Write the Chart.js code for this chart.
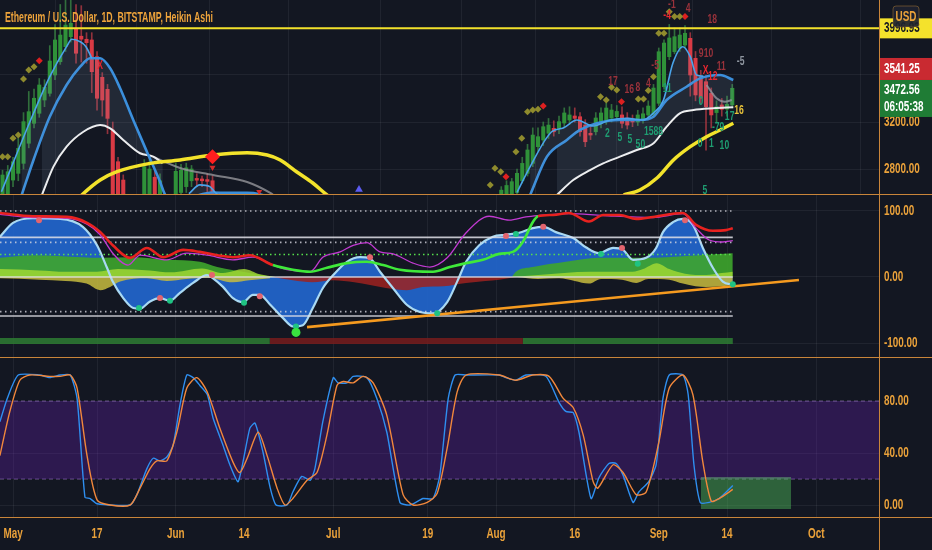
<!DOCTYPE html>
<html>
<head>
<meta charset="utf-8">
<title>ETHUSD 1D Heikin Ashi</title>
<script src="https://cdn.jsdelivr.net/npm/chart.js@4.4.1/dist/chart.umd.min.js"></script>
<style>
  html, body { margin: 0; padding: 0; background: #131722; }
  #board { position: relative; width: 932px; height: 550px; overflow: hidden; background: #131722; }
  .pane { position: absolute; left: 0; width: 932px; }
  .rule { position: absolute; background: #c9853a; }
</style>
</head>
<body>
<div id="board">
  <div class="pane" style="top:0;height:194px"><canvas id="priceChart"></canvas></div>
  <div class="pane" style="top:195px;height:162px"><canvas id="oscChart"></canvas></div>
  <div class="pane" style="top:358px;height:192px"><canvas id="stochChart"></canvas></div>
  <div class="rule" style="left:0;top:194px;width:932px;height:1px"></div>
  <div class="rule" style="left:0;top:357px;width:932px;height:1px"></div>
  <div class="rule" style="left:0;top:517px;width:932px;height:1px"></div>
  <div class="rule" style="left:879px;top:0;width:1px;height:550px"></div>
</div>
<script>
const FONT = '"Liberation Sans", Arial, sans-serif';
const SQUEEZE = 0.66;   // the snapshot text is horizontally condensed
const AXIS_TEXT = '#eba23a';
const GRID = 'rgba(255,255,255,0.06)';

// day 0 = 1 May 2021, visible window of the time axis
const viewStart = -2.48;
const viewEnd = 164.95;
const tickDays = [0, 16, 31, 44, 61, 79, 92, 107, 123, 136, 153];
const tickLabels = ['May', '17', 'Jun', '14', 'Jul', '19', 'Aug', '16', 'Sep', '14', 'Oct'];

// ---------- price pane ----------
const titleText = 'Ethereum / U.S. Dollar, 1D, BITSTAMP, Heikin Ashi';
const priceTicks = [2800, 3200, 3600, 4000];
const alertLevel = 3996.93;
const lastPrice = 3472.56;
const prevPrice = 3541.25;
const countdown = '06:05:38';

const candleDays  = [-2, -1, 0, 1, 2, 3, 4, 5, 6, 7, 8, 9, 10, 11, 12, 13, 14, 15, 16, 17, 18, 19, 20, 21, 25, 26, 27, 28, 31, 32, 33, 34, 35, 36, 37, 38,
  93, 94, 95, 96, 97, 98, 99, 100, 101, 102, 103, 104, 105, 106, 107, 108, 109, 110, 111, 112, 113, 114, 115, 116, 117, 118, 119, 120, 121, 122, 123, 124, 125, 126, 127, 128, 129, 130, 131, 132, 133, 134, 135, 136, 137];
const candleOpen  = [2550, 2560, 2706, 2763, 2848, 3019, 3189, 3274, 3387, 3444, 3600, 3713, 3841, 3926, 3989, 3930, 3904, 3898, 3756, 3580, 3478, 3132, 2862, 2706, 2550, 2550, 2730, 2560, 2550, 2600, 2650, 2700, 2720, 2715, 2710, 2700,
  2560, 2580, 2580, 2600, 2700, 2763, 2848, 2990, 3047, 3104, 3146, 3146, 3191, 3217, 3251, 3245, 3174, 3104, 3117, 3189, 3203, 3234, 3245, 3260, 3234, 3226, 3200, 3217, 3260, 3260, 3359, 3500, 3756, 3798, 3828, 3855, 3912, 3742, 3586, 3543, 3444, 3280, 3345, 3310, 3345];
const candleClose = [2749, 2777, 2862, 2976, 3203, 3288, 3402, 3515, 3495, 3719, 3898, 3940, 4025, 4040, 3785, 3905, 3875, 3628, 3402, 3387, 3231, 2500, 2500, 2500, 2820, 2800, 2550, 2700, 2780, 2790, 2810, 2800, 2705, 2700, 2695, 2550,
  2620, 2660, 2692, 2763, 2848, 2962, 3089, 3075, 3160, 3174, 3117, 3203, 3277, 3260, 3231, 3117, 3032, 3089, 3234, 3277, 3319, 3302, 3290, 3189, 3174, 3200, 3260, 3270, 3336, 3489, 3798, 3872, 3915, 3926, 3940, 3955, 3600, 3430, 3402, 3330, 3260, 3330, 3308, 3350, 3487];
const candleHigh  = [2790, 2830, 2900, 3060, 3280, 3460, 3480, 3570, 3560, 3850, 4030, 4200, 4250, 4300, 4200, 4190, 3960, 3960, 3800, 3620, 3520, 3200, 2900, 2750, 2880, 2900, 2780, 2760, 2850, 2840, 2850, 2830, 2760, 2740, 2760, 2740,
  2650, 2700, 2720, 2800, 2900, 3010, 3150, 3150, 3200, 3230, 3210, 3250, 3320, 3330, 3320, 3280, 3220, 3170, 3280, 3320, 3360, 3350, 3340, 3330, 3280, 3260, 3300, 3320, 3380, 3520, 3830, 3900, 4030, 4000, 4000, 4020, 3960, 3800, 3640, 3600, 3490, 3380, 3400, 3420, 3520];
const candleLow   = [2500, 2500, 2650, 2700, 2800, 2980, 3150, 3240, 3330, 3420, 3560, 3690, 3800, 3880, 3700, 3710, 3700, 3450, 3300, 3250, 3100, 2400, 2400, 2400, 2500, 2500, 2500, 2500, 2500, 2550, 2600, 2650, 2650, 2650, 2600, 2500,
  2540, 2560, 2560, 2580, 2680, 2740, 2820, 2950, 3000, 3060, 3080, 3100, 3150, 3180, 3200, 3080, 2990, 3050, 3090, 3150, 3180, 3200, 3210, 3150, 3140, 3160, 3170, 3190, 3230, 3240, 3340, 3480, 3730, 3780, 3800, 3830, 3420, 3380, 3350, 2960, 3150, 3200, 3250, 3250, 3320];

const fastDays  = [-2.2, 3.9, 7.0, 10.2, 11.2, 12.8, 13.9, 15.0, 25, 33.5, 35.6, 37.5, 38.5, 39.5, 70, 96, 98.5, 102.6, 104.8, 107.4, 110.5, 113.7, 117, 120, 122, 123.9, 125.7, 127.6, 129, 130.2, 131.5];
const fastVals  = [2607, 3274, 3586, 3841, 3904, 3883, 3841, 3742, null, 2590, 2665, 2650, 2600, 2570, null, 2600, 2820, 3117, 3149, 3217, 3166, 3217, 3231, 3217, 3277, 3387, 3702, 3841, 3756, 3600, 3590];
const slowDays  = [1.65, 3.9, 7.0, 10.2, 12.8, 14.7, 16.6, 18.5, 20.4, 22.9, 25.5, 28, 29, 31, 38, 41, 44.6, 47, 50, 70, 98.5, 101.7, 105.5, 108, 111.2, 115.6, 119.4, 122, 124.5, 128.3, 130.9, 134.7, 137.2];
const slowVals  = [2579, 2877, 3245, 3515, 3671, 3742, 3742, 3657, 3487, 3217, 2947, 2692, 2579, 2530, 2600, 2597, 2597, 2585, 2540, null, 2579, 2905, 3047, 3132, 3189, 3217, 3217, 3245, 3387, 3500, 3571, 3600, 3557];
const whiteDays = [5.5, 7.7, 10.2, 13.4, 16.6, 18.5, 21, 24.2, 26.7, 28.5, 70, 103.6, 106.7, 109.9, 112.4, 115.6, 118.8, 122, 124.5, 127, 129.6, 133.4, 137.2];
const whiteVals = [2579, 2820, 2990, 3117, 3174, 3146, 3047, 2934, 2905, 2850, null, 2579, 2706, 2791, 2848, 2905, 2962, 3019, 3160, 3274, 3302, 3317, 3325];
const grayDays  = [26.7, 31.8, 38.1, 44.6, 49, 50.5, 90, 132.1, 134, 135.6, 136.9];
const grayVals  = [2905, 2809, 2749, 2689, 2596, 2550, null, 3515, 3402, 3373, 3387];
const maDays    = [12, 13.1, 16.6, 19.8, 26.1, 31.8, 38.1, 44.6, 48.4, 50.9, 54, 57.1, 59.8, 61, 90, 116.3, 119.4, 122.6, 125.8, 129, 132.1, 134.7, 137.2];
const maVals    = [2530, 2579, 2706, 2777, 2848, 2877, 2919, 2939, 2919, 2877, 2777, 2681, 2579, 2540, null, 2579, 2621, 2721, 2877, 2990, 3075, 3132, 3189];

const oliveDays   = [-2, -1, 0, 1, 2, 3, 4, 90.9, 91.8, 92.9, 95.8, 96.9, 98, 99, 100, 111.9, 113, 114, 115, 119.1, 120.1, 121, 122, 123, 124, 125, 126, 127];
const olivePrices = [2905, 2905, 3061, 3089, 3566, 3643, 3671, 2664, 2806, 2777, 2947, 3061, 3288, 3302, 3308, 3415, 3387, 3495, 3472, 3396, 3396, 3468, 3586, 3955, 3955, 4139, 4097, 4097];
const redMarkDays   = [5, 93.9, 101, 115.9, 128];
const redMarkPrices = [3722, 2735, 3336, 3373, 4097];
const bigMarkDays   = [38];
const bigMarkPrices = [2905];
const arrowDays   = [38, 46.9];
const arrowPrices = [2812, 2607];
const blueTriDays   = [65.9];
const blueTriPrices = [2625];

const noteDays   = [16.6, 125.5, 124.6, 128.6, 133.2, 122.3, 132, 131.9, 133.3, 134.9, 138.6, 138.3, 131, 134.3, 136.5, 130.9, 133, 135.5, 124.6, 113.2, 115.6, 117.5, 119.5, 122, 114.3, 117.4, 119, 121, 131.8];
const notePrices = [3685, 4200, 4110, 4170, 4070, 3685, 3785, 3642, 3586, 3671, 3713, 3296, 3373, 3150, 3245, 3021, 3021, 3004, 3487, 3104, 3072, 3051, 3010, 3118, 3543, 3475, 3495, 3529, 2615];
const noteTexts  = ['X', '-1', '-4', '4', '18', '-5', '910', 'X', '12', '11', '-5', '16', '0', '-79', '17', '0', '1', '10', '11', '2', '5', '5', '50', '1588', '17', '16', '8', '4', '5'];
const noteTones  = ['red', 'dark', 'red', 'dark', 'dark', 'dark', 'dark', 'red', 'red', 'dark', 'gray', 'yellow', 'green', 'green', 'green', 'green', 'green', 'green', 'green', 'green', 'green', 'green', 'green', 'green', 'dark', 'dark', 'dark', 'dark', 'green'];

// ---------- oscillator pane ----------
const oscTicks = [-100, 0, 100];
const waveDays = [-2.5, 0, 3.8, 9, 13.3, 16, 17.9, 19, 21, 22.9, 24.2, 26.1, 28, 29.9, 31.8, 34.3, 37, 38.1, 40, 41.9, 43.8, 45.7, 47, 49, 51.4, 53.3, 55.2, 57.1, 59, 61, 63.6, 66.1, 68, 69.9, 72.4, 75, 77.5, 80, 82.7, 84.6, 86.3, 88.8, 91.4, 93.9, 96.4, 99, 101, 103.4, 106.7, 109.1, 111.6, 114.3, 116.2, 118.1, 120.6, 122.5, 123.8, 125.7, 127.6, 129.5, 131.4, 133.3, 135.2, 137.1];
const waveVals = [61, 82, 89, 88, 76, 48, 14, -7, -32, -47, -48, -37, -32, -36, -24, -9, 3, -2, -15, -32, -38, -27, -27, -42, -62, -75, -73, -47, -17, 3, 23, 30, 28, 8, -17, -42, -53, -55, -38, -7, 23, 48, 61, 64, 67, 74, 76, 68, 59, 45, 36, 44, 41, 26, 29, 44, 68, 83, 88, 79, 44, 14, -7, -12];
const sigDays = [-2.5, 3.8, 10.3, 14.1, 16.6, 19, 22.3, 25.5, 28.6, 32.4, 35.6, 38.9, 41.9, 45.1, 49.5, 53.3, 56.6, 59.8, 63.6, 67.4, 70.5, 73.7, 80, 83.2, 86.3, 89.5, 92.6, 95.2, 97.1, 99, 100, 102.9, 105.9, 109.7, 112.4, 115.6, 118.7, 121.9, 127.6, 130.1, 133.3, 135.8, 137.1];
const sigVals = [97, 92, 91, 82, 68, 48, 29, 44, 30, 41, 38, 33, 30, 33, 18, 11, 8, 14, 21, 23, 18, 11, 8, 15, 21, 26, 35, 38, 53, 83, 92, 94, 97, 84, 94, 94, 88, 91, 97, 79, 70, 71, 74];
const sigBullFrom = 49.5;
const sigBullTo = 100;
const magDays = [-2.5, 3.8, 10.3, 14.1, 16.6, 19, 21.9, 24.2, 29.3, 33.1, 37, 41.9, 45.7, 49.5, 52.2, 56.6, 59, 62.3, 64.8, 67.4, 69.9, 72.4, 76.2, 79.4, 82.7, 86.3, 90.7, 94.5, 97.7, 100, 105.9, 112.4, 121.9, 127.6, 130.1, 132.6, 135.2, 137.1];
const magVals = [95, 90, 89, 80, 64, 36, 18, 33, 26, 36, 33, 26, 30, 18, 11, 8, 30, 38, 48, 52, 38, 35, 21, 15, 29, 67, 92, 86, 91, 93, 96, 93, 90, 96, 74, 56, 53, 55];
const flowDays = [-2.5, 3.8, 13.3, 16.6, 22.9, 29.3, 35.6, 38.9, 45.1, 49.5, 70, 95, 95.8, 99, 105.3, 111.6, 120.6, 124.4, 130.7, 137.1];
const flowVals = [29, 33, 30, 29, 30, 26, 23, 15, 6, 0, null, 0, 8, 15, 23, 29, 29, 30, 33, 36];
const limeDays = [-2.5, 5, 10, 16, 20, 26, 30, 36, 40, 44, 47, 50, 70, 95, 100, 110, 118, 120, 122.6, 125, 128, 132, 135, 137.1];
const limeVals = [12, 10, 8, 8, 12, 10, 7, 13, 6, 12, 4, 0, null, 0, 3, 8, 8, 12, 21, 12, 5, 3, 6, 8];
const dipDays = [-2.5, 5, 10, 14, 16.6, 18.5, 20.4, 25.5, 29.3, 33, 37, 41.9, 45, 49, 70, 96, 100, 104, 107, 109.7, 112, 116, 118.7, 121, 125, 127.6, 130, 132, 135, 137.1];
const dipVals = [-2, -4, -6, -10, -20, -15, -7, -2, -6, -3, -1, -8, -5, -2, null, 0, -3, -2, -6, -10, -3, -4, -9, -3, -4, -10, -14, -15, -14, -12];
const bearDays = [49.5, 53.3, 57, 61, 65, 68, 72, 75, 78, 82, 86.3, 90, 92.6, 95, 96];
const bearVals = [0, -5, -8, -5, -8, -12, -18, -20, -15, -14, -9, -6, -4, -1, 0];
const solidLevels = [60, 0, -59];
const dottedLevels = [100, 52.5, -52.5];
const greenLevel = 34;
const levelEnd = 137.1;
const redDotDays = [4.95, 28, 37.9, 47, 68, 93.9, 101, 116, 128];
const redDotVals = [86, -32, 3, -29, 30, 62, 76, 44, 86];
const greenDotDays = [24, 29.9, 44, 53.9, 80.8, 95.8, 112, 119, 137.1];
const greenDotVals = [-47, -36, -39, -75, -55, 65, 35, 20, -11];
const bigDotDays = [53.9];
const bigDotVals = [-84];
const trendDays = [56, 149.7];
const trendVals = [-76, -4.5];
const statusLevel = -97;
const statusBreaks = [-2.5, 48.9, 97.1, 137.1];
const statusTones = ['bull', 'bear', 'bull'];

// ---------- stochastic pane ----------
const stochTicks = [0, 40, 80];
const kDays = [-2.5, -1.1, 1, 5.1, 7, 9, 10.9, 12.2, 13.7, 14.7, 16, 22.3, 23.6, 25.5, 26.7, 28, 29.3, 30.5, 31.8, 33.1, 34.3, 35.6, 37, 38.1, 40, 41.3, 42.9, 45.1, 46.1, 47.6, 49, 50.1, 52.2, 53.3, 55, 56.6, 57.5, 59, 61, 61.9, 63.6, 64.8, 67.4, 69.3, 71.2, 73.7, 75.6, 78.1, 80, 81.3, 82.9, 84.2, 86.3, 92.6, 93.9, 95.8, 97.7, 101.5, 104, 105.3, 106.7, 107.8, 110.1, 111.6, 113.5, 114.9, 116.2, 118.1, 119.2, 121.1, 122.5, 123.8, 125, 127.6, 128.6, 129.7, 130.9, 132.6, 134.5, 137.1];
const kVals = [64, 82, 100, 100, 98, 100, 100, 82, 6, 5, 1, 0, 8, 28, 36, 34, 37, 46, 77, 100, 98, 92, 85, 67, 46, 31, 18, 59, 63, 41, 13, 0, 0, 10, 22, 19, 28, 64, 98, 94, 94, 99, 98, 82, 56, 2, 0, 5, 5, 23, 82, 100, 100, 100, 98, 96, 100, 99, 79, 72, 71, 56, 5, 21, 32, 32, 23, 2, 10, 18, 31, 82, 100, 100, 85, 31, 2, 2, 5, 15];
const dDays = [-2.5, -0.6, 1.3, 3.2, 7, 9, 10.9, 12.2, 14.1, 16, 18.5, 22.3, 24.2, 26.1, 27.4, 29.3, 31.2, 33.1, 35, 37, 39.4, 41.9, 43.2, 44.6, 46.7, 48.4, 50.3, 51.8, 53.3, 56, 57.9, 59.8, 61.7, 62.9, 64.8, 66.7, 68.6, 71.2, 74.3, 76.2, 78.9, 80.8, 82.7, 84.6, 86.3, 92.6, 95.8, 99, 102.1, 104.8, 106.7, 108.6, 110.5, 111.4, 114.3, 116.2, 118.7, 120.6, 123, 125, 127.6, 129.5, 131.4, 133, 134.5, 137.1];
const dVals = [38, 72, 96, 100, 99, 99, 100, 90, 38, 4, 0, 0, 13, 28, 34, 34, 56, 90, 98, 87, 59, 33, 25, 36, 56, 38, 13, 0, 5, 19, 25, 54, 92, 95, 94, 99, 94, 69, 8, 0, 2, 9, 44, 87, 100, 100, 96, 100, 99, 82, 75, 54, 18, 13, 31, 25, 8, 10, 48, 90, 100, 85, 33, 3, 5, 12];
const bandLevels = [80, 20];
const boxDays = [131, 148.2];
const boxLevels = [21, -3];

// ---------- helpers ----------
const pts = (xs, ys) => xs.map((x, i) => ({ x: x, y: ys[i] }));
const flat = (from, to, v) => [{ x: from, y: v }, { x: to, y: v }];

function line(data, color, width, extra) {
  return Object.assign({
    type: 'line', data: data, borderColor: color, borderWidth: width,
    pointRadius: 0, cubicInterpolationMode: 'monotone', fill: false
  }, extra || {});
}

function marks(data, style, radius, color, extra) {
  return Object.assign({
    type: 'line', data: data, showLine: false, pointStyle: style, pointRadius: radius,
    pointBackgroundColor: color, pointBorderColor: color, pointBorderWidth: 0, order: 0
  }, extra || {});
}

// condensed text, like the squeezed snapshot
function squeezed(ctx, text, x, y, size, color, align) {
  ctx.save();
  ctx.font = 'bold ' + size + 'px ' + FONT;
  ctx.fillStyle = color;
  ctx.textBaseline = 'middle';
  ctx.textAlign = align;
  ctx.translate(x, y);
  ctx.scale(SQUEEZE, 1);
  ctx.fillText(text, 0, 0);
  ctx.restore();
}

// scales may not push the plot inward: the panes are laid out edge to edge
function noPadding(s) {
  s.paddingTop = 0; s.paddingBottom = 0; s.paddingLeft = 0; s.paddingRight = 0;
}

function xAxis(showLabels) {
  return {
    type: 'linear', min: viewStart, max: viewEnd, offset: false,
    border: { display: false },
    grid: { color: GRID, drawTicks: false },
    ticks: { display: false },
    afterBuildTicks: s => { s.ticks = tickDays.map(v => ({ value: v })); },
    afterFit: s => { s.height = showLabels ? 33 : 0; noPadding(s); }
  };
}

function yAxis(min, max, ticks) {
  return {
    position: 'right', min: min, max: max,
    border: { display: false },
    grid: { color: GRID, drawTicks: false },
    ticks: { display: false },
    afterBuildTicks: s => { s.ticks = ticks.map(v => ({ value: v })); },
    afterFit: s => { s.width = 53; noPadding(s); }
  };
}

// tick labels drawn from the scales' own ticks
const axisText = {
  id: 'axisText',
  afterDraw(chart, args, opts) {
    const { ctx, chartArea: a, scales: { x, y } } = chart;
    y.ticks.forEach(t => squeezed(ctx, t.value.toFixed(2), a.right + 5, y.getPixelForValue(t.value), 15, AXIS_TEXT, 'left'));
    if (opts.dates) {
      x.ticks.forEach(t => {
        const i = tickDays.indexOf(t.value);
        squeezed(ctx, tickLabels[i], x.getPixelForValue(t.value), a.bottom + 17, 15, AXIS_TEXT, 'center');
      });
    }
  }
};

function baseOptions(x, y, dates) {
  return {
    responsive: true, maintainAspectRatio: false, animation: false, events: [],
    layout: { padding: 0, autoPadding: false },
    plugins: {
      legend: { display: false }, tooltip: { enabled: false },
      filler: { drawTime: 'beforeDatasetDraw' },
      axisText: { dates: dates }
    },
    scales: { x: x, y: y }
  };
}

// ---------- price chart ----------
const notePalette = { red: '#e8262f', dark: '#9a323b', green: '#1f9d72', yellow: '#e9c33a', gray: '#8f96a0' };
const isUp = i => candleClose[i] >= candleOpen[i];
const shade = 'rgba(140,160,195,0.13)';

const priceOverlay = {
  id: 'priceOverlay',
  afterDraw(chart) {
    const { ctx, chartArea: a, scales: { x, y } } = chart;
    ctx.save();
    ctx.beginPath();
    ctx.rect(a.left, a.top, a.right - a.left, a.bottom - a.top);
    ctx.clip();
    noteTexts.forEach((t, i) => {
      squeezed(ctx, t, x.getPixelForValue(noteDays[i]), y.getPixelForValue(notePrices[i]), 13, notePalette[noteTones[i]], 'center');
    });
    // symbol title
    ctx.font = 'bold 14px ' + FONT;
    ctx.textAlign = 'left';
    ctx.textBaseline = 'middle';
    ctx.fillStyle = '#eda33b';
    const w = ctx.measureText(titleText).width;
    ctx.translate(5, 18);
    ctx.scale(208 / w, 1);
    ctx.fillText(titleText, 0, 0);
    ctx.restore();

    // price scale labels
    const left = a.right + 1;
    const ya = y.getPixelForValue(alertLevel);
    ctx.fillStyle = '#f4e22c';
    ctx.fillRect(left, ya - 10, 53, 20);
    squeezed(ctx, alertLevel.toFixed(2), left + 4, ya, 15, '#131722', 'left');
    const yl = y.getPixelForValue(lastPrice);
    ctx.fillStyle = '#1f7c35';
    ctx.fillRect(left, yl - 10, 53, 37);
    ctx.fillStyle = '#c92a31';
    ctx.fillRect(left, yl - 32, 53, 22);
    squeezed(ctx, prevPrice.toFixed(2), left + 4, yl - 21, 15, '#ffffff', 'left');
    squeezed(ctx, lastPrice.toFixed(2), left + 4, yl, 15, '#ffffff', 'left');
    squeezed(ctx, countdown, left + 4, yl + 17, 15, '#ffffff', 'left');
    // currency badge
    ctx.save();
    ctx.fillStyle = 'rgba(30,34,48,0.92)';
    ctx.strokeStyle = 'rgba(235,163,58,0.35)';
    ctx.beginPath();
    ctx.roundRect(a.right + 14, 6, 26, 21, 3);
    ctx.fill();
    ctx.stroke();
    ctx.restore();
    squeezed(ctx, 'USD', a.right + 27, 17, 15, AXIS_TEXT, 'center');
  }
};

const priceSets = [
  line(flat(viewStart, viewEnd, alertLevel), '#f2e12a', 2, { order: 1, cubicInterpolationMode: 'default' }),
  marks(pts(oliveDays, olivePrices), 'rectRot', 3.5, '#8f8b2d'),
  marks(pts(redMarkDays, redMarkPrices), 'rectRot', 3.5, '#dd2020'),
  marks(pts(bigMarkDays, bigMarkPrices), 'rectRot', 7.5, '#ff1f1f'),
  marks(pts(arrowDays, arrowPrices), 'triangle', 3.5, '#d62a2a', { rotation: 180 }),
  marks(pts(blueTriDays, blueTriPrices), 'triangle', 4.5, '#5c5cf2'),
  line(pts(fastDays, fastVals), '#4aa4ea', 1.6, { order: 3, fill: { target: 7, above: shade, below: shade } }),
  line(pts(slowDays, slowVals), '#3b8fdc', 2.6, { order: 3, fill: { target: 8, above: shade, below: shade } }),
  line(pts(whiteDays, whiteVals), '#f2f2f2', 2, { order: 4 }),
  line(pts(grayDays, grayVals), 'rgba(150,150,155,0.8)', 2, { order: 4 }),
  line(pts(maDays, maVals), '#f3e32b', 3.5, { order: 2 }),
  {
    type: 'bar', order: 6, grouped: false, barThickness: 3.4, minBarLength: 1,
    data: candleDays.map((d, i) => ({ x: d, y: [candleOpen[i], candleClose[i]] })),
    backgroundColor: candleDays.map((d, i) => isUp(i) ? '#2f9139' : '#d93a44')
  },
  {
    type: 'bar', order: 7, grouped: false, barThickness: 1,
    data: candleDays.map((d, i) => ({ x: d, y: [candleLow[i], candleHigh[i]] })),
    backgroundColor: candleDays.map((d, i) => isUp(i) ? 'rgba(60,140,70,0.75)' : 'rgba(190,60,70,0.75)')
  }
];

new Chart(document.getElementById('priceChart'), {
  type: 'bar',
  data: { datasets: priceSets },
  options: baseOptions(xAxis(false), yAxis(2587.3, 4238.2, priceTicks), false),
  plugins: [axisText, priceOverlay]
});

// ---------- oscillator chart ----------
const oscSets = [
  marks(pts(bigDotDays, bigDotVals), 'circle', 4.5, '#39e23f'),
  marks(pts(redDotDays, redDotVals), 'circle', 3, '#e3646e'),
  marks(pts(greenDotDays, greenDotVals), 'circle', 3, '#1fc383'),
  line(pts(sigDays, sigVals), '#e8221f', 2.6, {
    order: 1,
    segment: { borderColor: c => (c.p0.parsed.x >= sigBullFrom && c.p0.parsed.x < sigBullTo) ? '#3fe83a' : '#e8221f' }
  }),
  line(pts(magDays, magVals), '#c23ad2', 1.3, { order: 2 }),
  line(pts(trendDays, trendVals), '#f59a1f', 2.6, { order: 1 })
];
statusTones.forEach((tone, i) => {
  oscSets.push(line(flat(statusBreaks[i], statusBreaks[i + 1], statusLevel),
    tone === 'bull' ? 'rgba(46,125,50,0.85)' : 'rgba(120,28,28,0.85)', 6, { order: 3, borderCapStyle: 'butt' }));
});
solidLevels.forEach(v => oscSets.push(line(flat(viewStart, levelEnd, v), 'rgba(225,225,232,0.85)', 1.6, { order: 3 })));
dottedLevels.forEach(v => oscSets.push(line(flat(viewStart, levelEnd, v), 'rgba(215,215,225,0.8)', 1.6, { order: 3, borderDash: [1.5, 3.5] })));
oscSets.push(line(flat(viewStart, levelEnd, greenLevel), '#56e04c', 1.4, { order: 3, borderDash: [1.5, 3] }));
oscSets.push(line(pts(waveDays, waveVals), '#a9d9f3', 2.2, { order: 4 }));
oscSets.push(line(pts(dipDays, dipVals), 'rgba(0,0,0,0)', 0, { order: 5, fill: 'origin', backgroundColor: 'rgba(200,188,62,0.85)' }));
oscSets.push(line(pts(bearDays, bearVals), 'rgba(0,0,0,0)', 0, { order: 5, fill: 'origin', backgroundColor: 'rgba(158,34,32,0.85)' }));
oscSets.push(line(pts(limeDays, limeVals), 'rgba(0,0,0,0)', 0, { order: 5, fill: 'origin', backgroundColor: 'rgba(160,215,52,0.85)' }));
oscSets.push(line(pts(flowDays, flowVals), 'rgba(0,0,0,0)', 0, { order: 6, fill: 'origin', backgroundColor: 'rgba(62,165,44,0.9)' }));
oscSets.push(line(pts(waveDays, waveVals), 'rgba(0,0,0,0)', 0, { order: 7, fill: 'origin', backgroundColor: 'rgba(34,102,205,0.92)' }));

new Chart(document.getElementById('oscChart'), {
  type: 'line',
  data: { datasets: oscSets },
  options: baseOptions(xAxis(false), yAxis(-121.2, 124.2, oscTicks), false),
  plugins: [axisText]
});

// ---------- stochastic chart ----------
const stochSets = [
  line(pts(kDays, kVals), '#2f8ff0', 1.4, { order: 2, cubicInterpolationMode: 'default', tension: 0.2 }),
  line(pts(dDays, dVals), '#f2883c', 1.4, { order: 1, cubicInterpolationMode: 'default', tension: 0.25 }),
  line(flat(boxDays[0], boxDays[1], boxLevels[0]), 'rgba(120,200,130,0.5)', 1, { order: 5, fill: '+1', backgroundColor: 'rgba(80,190,90,0.45)' }),
  line(flat(boxDays[0], boxDays[1], boxLevels[1]), 'rgba(0,0,0,0)', 0, { order: 5 }),
  line(flat(viewStart, viewEnd, bandLevels[0]), 'rgba(175,140,215,0.55)', 1, { order: 6, borderDash: [4, 3], fill: '+1', backgroundColor: 'rgba(106,30,187,0.3)' }),
  line(flat(viewStart, viewEnd, bandLevels[1]), 'rgba(175,140,215,0.55)', 1, { order: 6, borderDash: [4, 3] })
];

new Chart(document.getElementById('stochChart'), {
  type: 'line',
  data: { datasets: stochSets },
  options: baseOptions(xAxis(true), yAxis(-9.2, 113.1, stochTicks), true),
  plugins: [axisText]
});
</script>
</body>
</html>
